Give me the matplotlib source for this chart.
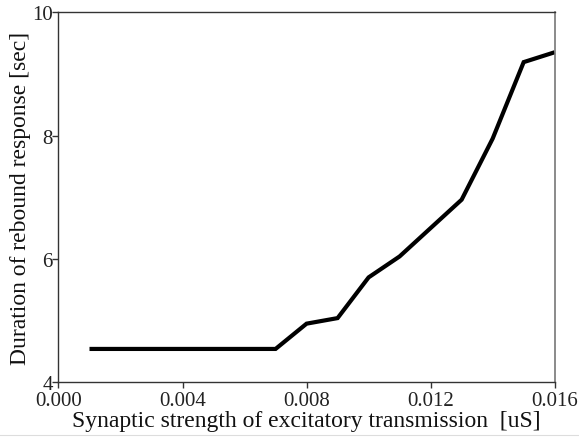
import matplotlib
matplotlib.use("Agg")
import matplotlib.pyplot as plt
from matplotlib.lines import Line2D

strength = [0.001, 0.002, 0.003, 0.004, 0.005, 0.006, 0.007, 0.008,
            0.009, 0.010, 0.011, 0.012, 0.013, 0.014, 0.015, 0.016]
duration = [4.54, 4.54, 4.54, 4.54, 4.54, 4.54, 4.54, 4.95,
            5.04, 5.70, 6.04, 6.50, 6.96, 7.95, 9.19, 9.35]
xticks = [0.000, 0.004, 0.008, 0.012, 0.016]
xticklabels = ["0.000", "0.004", "0.008", "0.012", "0.016"]
yticks = [4, 6, 8, 10]
yticklabels = ["4", "6", "8", "10"]

plt.rcParams['font.family'] = ['Liberation Serif', 'DejaVu Serif']

fig = plt.figure(figsize=(5.79, 4.39), dpi=100)
ax = fig.add_axes([0.101, 0.127, 0.857, 0.843])
ax.plot(strength, duration, color='black', lw=3.0, solid_capstyle='butt',
        solid_joinstyle='miter', clip_on=False)
ax.set_xlim(0, 0.016)
ax.set_ylim(4, 10)
ax.set_xticks(xticks)
ax.set_xticklabels(xticklabels)
ax.set_yticks(yticks)
ax.set_yticklabels(yticklabels)
ax.tick_params(direction='out', length=4, width=1, colors='#333333',
               labelsize=15, labelcolor='#222222')
ax.tick_params(axis='x', pad=2)
ax.tick_params(axis='y', pad=0)
for side in ['left', 'bottom', 'top']:
    ax.spines[side].set_color('#333333')
    ax.spines[side].set_linewidth(1.0)
ax.spines['right'].set_color('#777777')
ax.spines['right'].set_linewidth(1.2)
ax.set_xlabel("Synaptic strength of excitatory transmission  [uS]",
              fontsize=17, color='#111111', labelpad=0)
ax.set_ylabel("Duration of rebound response [sec]", fontsize=17,
              color='#111111', labelpad=1)

fig.add_artist(Line2D([0, 1], [1 - 436/439, 1 - 436/439],
                      transform=fig.transFigure, color='#dddddd', lw=0.8))

fig.savefig("out.png", dpi=100)
